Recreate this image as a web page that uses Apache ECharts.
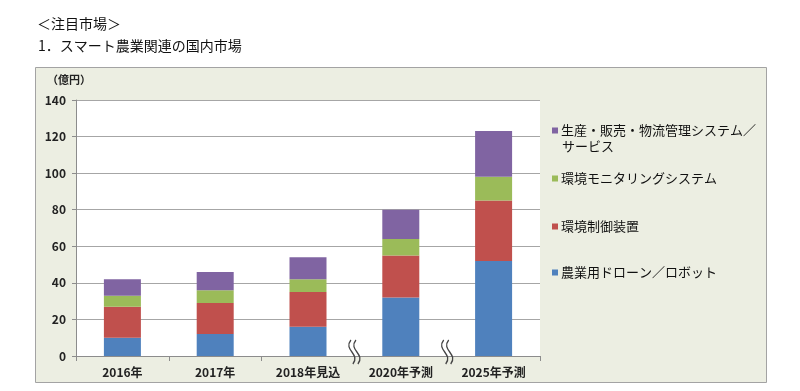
<!DOCTYPE html>
<html>
<head>
<meta charset="utf-8">
<script src="https://cdn.jsdelivr.net/npm/echarts@6/dist/echarts.min.js"></script>
<style>
html,body{margin:0;padding:0;background:#fff;}
#c{width:800px;height:391px;}
</style>
</head>
<body>
<div id="c"></div>
<script>
var categories = ['2016年', '2017年', '2018年見込', '2020年予測', '2025年予測'];
var droneRobot = [10, 12, 16, 32, 52];
var envControl = [17, 17, 19, 23, 33];
var envMonitor = [6, 7, 7, 9, 13];
var prodSales = [9, 10, 12, 16, 25];
var seriesNames = ['農業用ドローン／ロボット', '環境制御装置', '環境モニタリングシステム', '生産・販売・物流管理システム／サービス'];
var seriesColors = ['#4F81BD', '#C0504D', '#9BBB59', '#8064A2'];
var yTicks = [0, 20, 40, 60, 80, 100, 120, 140];
var breakAfter = [2, 3]; // break marks between these category index pairs (idx, idx+1)

var FONT = '"Noto Sans CJK JP", "Noto Sans", sans-serif';
var chart = echarts.init(document.getElementById('c'), null, {renderer: 'canvas'});
var values = [droneRobot, envControl, envMonitor, prodSales];

var series = values.map(function (v, i) {
  return {
    name: seriesNames[i],
    type: 'bar',
    stack: 'total',
    data: v,
    barWidth: 37,
    itemStyle: {color: seriesColors[i]},
    emphasis: {disabled: true}
  };
});

var legendTops = [266, 220, 172, 124];
var legends = seriesNames.map(function (n, i) {
  return {
    data: [n],
    left: 552,
    top: legendTops[i],
    orient: 'vertical',
    padding: 0,
    itemWidth: 6,
    itemHeight: 6,
    icon: 'rect',
    selectedMode: false,
    formatter: function (name) {
      return name === seriesNames[3] ? '生産・販売・物流管理システム／' : name;
    },
    textStyle: {fontSize: 13, color: '#111', fontFamily: FONT, padding: [0, 0, 0, -2]}
  };
});

var option = {
  animation: false,
  backgroundColor: '#ffffff',
  textStyle: {fontFamily: FONT},
  grid: {left: 76, right: 260, top: 100, bottom: 35, show: true, backgroundColor: '#ffffff', borderWidth: 0, containLabel: false},
  legend: legends,
  xAxis: {
    type: 'category',
    data: categories,
    axisLine: {lineStyle: {color: '#8c8c8c', width: 1}},
    axisTick: {show: true, length: 5, lineStyle: {color: '#8c8c8c'}},
    axisLabel: {fontSize: 12, color: '#222', fontWeight: 'bold', margin: 10, fontFamily: FONT}
  },
  yAxis: {
    type: 'value',
    min: yTicks[0],
    max: yTicks[yTicks.length - 1],
    interval: yTicks[1] - yTicks[0],
    axisLine: {show: true, lineStyle: {color: '#8c8c8c', width: 1}},
    axisTick: {show: true, length: 4, lineStyle: {color: '#8c8c8c'}},
    axisLabel: {fontSize: 12, color: '#222', fontWeight: 'bold', margin: 10, fontFamily: FONT},
    splitLine: {lineStyle: {color: '#a6a6a6', width: 1}}
  },
  series: series
};

option.graphic = [
  {type: 'rect', z: -10, silent: true, shape: {x: 35.5, y: 67.5, width: 731, height: 315}, style: {fill: '#ECEEE2', stroke: '#A3A3A3', lineWidth: 1}},
  {type: 'text', left: 37, top: 17, silent: true, style: {text: '＜注目市場＞', fontSize: 14, fill: '#111', fontFamily: FONT}},
  {type: 'text', left: 38, top: 39, silent: true, style: {text: '1．スマート農業関連の国内市場', fontSize: 14, fill: '#111', fontFamily: FONT}},
  {type: 'text', left: 47, top: 74, silent: true, style: {text: '（億円）', fontSize: 11, fill: '#222', fontWeight: 'bold', fontFamily: FONT}},
  {type: 'text', left: 562, top: 140, silent: true, style: {text: 'サービス', fontSize: 13, fill: '#111', fontFamily: FONT}}
];

chart.setOption(option);

// break marks between categories, positioned from the axis scale
var y0 = chart.convertToPixel({yAxisIndex: 0}, 0);
var extra = [];
breakAfter.forEach(function (idx, k) {
  var a = chart.convertToPixel({xAxisIndex: 0}, categories[idx]);
  var b = chart.convertToPixel({xAxisIndex: 0}, categories[idx + 1]);
  var cx = (a + b) / 2;
  var top = y0 - 16, bot = y0 + 8;
  [-2.5, 2.5].forEach(function (dx) {
    var x = cx + dx;
    extra.push({
      type: 'bezierCurve', silent: true, z: 100,
      shape: {x1: x - 1, y1: top, cpx1: x - 9, cpy1: top + 10, cpx2: x + 9, cpy2: bot - 10, x2: x + 1, y2: bot},
      style: {stroke: '#444', lineWidth: 1.3, fill: null}
    });
  });
});
chart.setOption({graphic: option.graphic.concat(extra)});
</script>
</body>
</html>
